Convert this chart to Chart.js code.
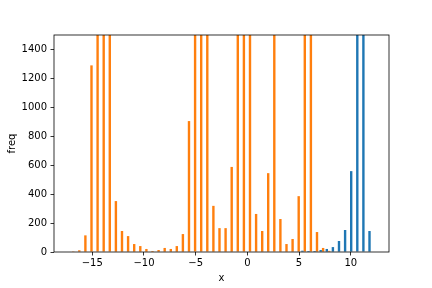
<!DOCTYPE html>
<html>
<head>
<meta charset="utf-8">
<script src="https://cdn.jsdelivr.net/npm/chart.js@4/dist/chart.umd.min.js"></script>
<style>
  body { margin: 0; background: #fff; }
  #wrap { width: 432px; height: 288px; }
</style>
</head>
<body>
<div id="wrap"><canvas id="myChart" width="432" height="288"></canvas></div>
<script>
// bin centres of the histogram (50 bins)
var binCentres = [
  -16.96, -16.37, -15.78, -15.19, -14.60, -14.01, -13.42, -12.83, -12.24, -11.65,
  -11.06, -10.47, -9.88, -9.29, -8.70, -8.11, -7.52, -6.94, -6.35, -5.76,
  -5.17, -4.58, -3.99, -3.40, -2.81, -2.22, -1.63, -1.04, -0.45, 0.14,
  0.73, 1.32, 1.90, 2.49, 3.08, 3.67, 4.26, 4.85, 5.44, 6.03,
  6.62, 7.21, 7.80, 8.39, 8.98, 9.57, 10.16, 10.75, 11.34, 11.93
];

// counts per bin, first series (blue)
var freqBlue = [
  0, 0, 0, 0, 0, 0, 0, 0, 0, 0,
  0, 0, 0, 0, 0, 0, 0, 0, 0, 0,
  0, 0, 0, 0, 0, 0, 0, 0, 0, 0,
  0, 0, 0, 0, 0, 0, 0, 0, 9, 7,
  7, 14, 21, 34, 76, 152, 559, 2700, 3100, 145
];

// counts per bin, second series (orange)
var freqOrange = [
  1, 12, 115, 1290, 2600, 3200, 2400, 352, 145, 110,
  55, 41, 21, 7, 14, 28, 21, 41, 124, 905,
  2100, 2900, 2300, 319, 165, 165, 588, 1900, 2600, 2000,
  263, 145, 545, 1800, 228, 55, 90, 386, 2400, 2100,
  138, 28, 8, 0, 0, 0, 0, 0, 0, 0
];

var xTicks = [-15, -10, -5, 0, 5, 10];
var yTicks = [0, 200, 400, 600, 800, 1000, 1200, 1400];

function pontos(valores) {
    return binCentres.map(function (c, i) {
        return { x: c, y: valores[i] };
    });
}

function menos(v) {
    return String(v).replace('-', '\u2212');
}

// moldura dos eixos (spines)
var moldura = {
    id: 'moldura',
    afterDatasetsDraw: function (chart) {
        var a = chart.chartArea;
        var ctx = chart.ctx;
        ctx.save();
        ctx.strokeStyle = '#000';
        ctx.lineWidth = 0.8;
        ctx.strokeRect(a.left, a.top, a.right - a.left, a.bottom - a.top);
        ctx.restore();
    }
};

const ctx = document.getElementById('myChart');
Chart.defaults.font.family = 'DejaVu Sans';
Chart.defaults.font.size = 10;
Chart.defaults.color = '#000';

new Chart(ctx, {
    type: 'bar',
    data: {
        datasets: [{
            label: 'a',
            data: pontos(freqBlue),
            backgroundColor: '#1f77b4',
            borderWidth: 0
        },
        {
            label: 'b',
            data: pontos(freqOrange),
            backgroundColor: '#ff7f0e',
            borderWidth: 0
        }]
    },
    options: {
        responsive: false,
        animation: false,
        categoryPercentage: 0.8,
        barPercentage: 1.0,
        layout: {
            padding: { top: 35, right: 43, bottom: 0, left: 0 }
        },
        scales: {
            x: {
                type: 'linear',
                min: -18.7,
                max: 13.7,
                offset: false,
                afterBuildTicks: function (scale) {
                    scale.ticks = xTicks.map(function (v) { return { value: v }; });
                },
                afterFit: function (scale) { scale.height = 36; },
                ticks: {
                    padding: 2,
                    maxRotation: 0,
                    callback: function (v) { return menos(v); }
                },
                grid: {
                    display: true,
                    offset: false,
                    drawOnChartArea: false,
                    drawTicks: true,
                    tickLength: 3.5,
                    color: '#000',
                    lineWidth: 0.8
                },
                border: { display: false },
                title: {
                    display: true,
                    text: 'x',
                    padding: { top: 0, bottom: 4 }
                }
            },
            y: {
                type: 'linear',
                min: 0,
                max: 1500,
                afterBuildTicks: function (scale) {
                    scale.ticks = yTicks.map(function (v) { return { value: v }; });
                },
                afterFit: function (scale) { scale.width = 54; },
                ticks: {
                    padding: 3.5,
                    callback: function (v) { return String(v); }
                },
                grid: {
                    display: true,
                    drawOnChartArea: false,
                    drawTicks: true,
                    tickLength: 3.5,
                    color: '#000',
                    lineWidth: 0.8
                },
                border: { display: false },
                title: {
                    display: true,
                    text: 'freq',
                    padding: { top: 6, bottom: 0 }
                }
            }
        },
        plugins: {
            legend: { display: false },
            tooltip: { enabled: false }
        }
    },
    plugins: [moldura]
});
</script>
</body>
</html>
